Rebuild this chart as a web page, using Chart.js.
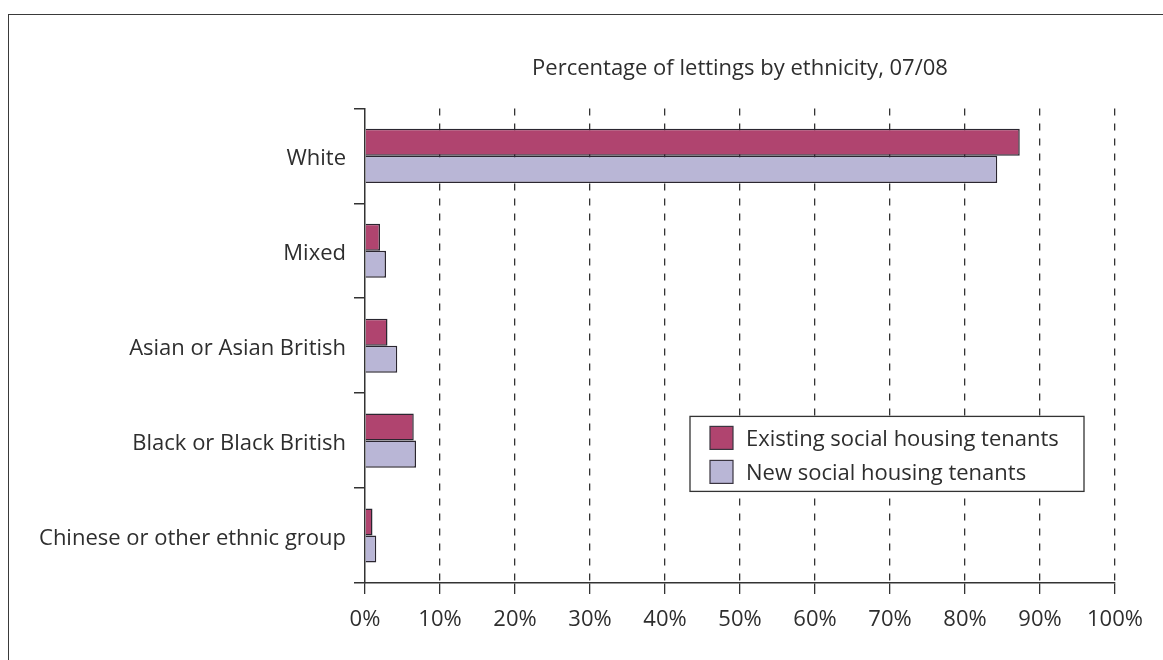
<!DOCTYPE html>
<html>
<head>
<meta charset="utf-8">
<script src="https://cdn.jsdelivr.net/npm/chart.js@4"></script>
<style>
  html, body { margin: 0; padding: 0; background: #fff; }
  #wrap { position: relative; width: 1163px; height: 660px; overflow: hidden; }
  #frame {
    position: absolute; left: 8px; top: 14px; width: 1200px; height: 700px;
    border-top: 1.5px solid #3a3a3a; border-left: 1.5px solid #3a3a3a;
  }
  #chart { position: absolute; left: 0; top: 0; }
</style>
</head>
<body>
<div id="wrap">
  <div id="frame"></div>
  <canvas id="chart" width="1163" height="660"></canvas>
</div>
<script>
const categories = ['White', 'Mixed', 'Asian or Asian British', 'Black or Black British', 'Chinese or other ethnic group'];
const existingTenants = [87.3, 2.0, 3.0, 6.5, 1.0];
const newTenants = [84.3, 2.8, 4.3, 6.8, 1.5];
const xTicks = [0, 10, 20, 30, 40, 50, 60, 70, 80, 90, 100];

const ink = '#2e2e2e';
const fontFamily = '"Open Sans", "Noto Sans", sans-serif';

Chart.defaults.font.family = fontFamily;
Chart.defaults.font.size = 22;
Chart.defaults.color = ink;

// legend box drawn inside the plot, lower right
const boxLegend = {
  id: 'boxLegend',
  afterDraw(chart) {
    const { ctx, chartArea } = chart;
    const x = chartArea.left + 325;
    const y = chartArea.top + 308;
    const w = 394, h = 75;
    ctx.save();
    ctx.fillStyle = '#fff';
    ctx.fillRect(x, y, w, h);
    ctx.strokeStyle = '#333';
    ctx.lineWidth = 1.3;
    ctx.strokeRect(x, y, w, h);
    ctx.font = '22px ' + fontFamily;
    ctx.textBaseline = 'middle';
    chart.data.datasets.forEach((ds, i) => {
      const sy = y + 10 + i * 34;
      ctx.fillStyle = ds.backgroundColor;
      ctx.fillRect(x + 20, sy, 23, 23);
      ctx.strokeStyle = '#3a3540';
      ctx.lineWidth = 1.2;
      ctx.strokeRect(x + 20, sy, 23, 23);
      ctx.fillStyle = ink;
      ctx.fillText(ds.label, x + 56, sy + 13);
    });
    ctx.restore();
  }
};

new Chart(document.getElementById('chart'), {
  type: 'bar',
  data: {
    labels: categories,
    datasets: [
      {
        label: 'Existing social housing tenants',
        data: existingTenants,
        backgroundColor: '#b0446f',
        borderColor: '#2b2630',
        borderWidth: 1.5
      },
      {
        label: 'New social housing tenants',
        data: newTenants,
        backgroundColor: '#b9b6d6',
        borderColor: '#2b2630',
        borderWidth: 1.5
      }
    ]
  },
  options: {
    indexAxis: 'y',
    responsive: false,
    animation: false,
    categoryPercentage: 0.57,
    barPercentage: 1.0,
    layout: { padding: { left: 0, right: 48, top: 0, bottom: 0 } },
    plugins: {
      legend: { display: false },
      tooltip: { enabled: false },
      title: {
        display: true,
        text: 'Percentage of lettings by ethnicity, 07/08',
        fullSize: false,
        color: ink,
        font: { size: 22, weight: 'normal' },
        padding: { top: 56, bottom: 26 }
      }
    },
    scales: {
      x: {
        min: 0,
        max: 100,
        afterBuildTicks: scale => { scale.ticks = xTicks.map(v => ({ value: v })); },
        afterFit: scale => { scale.height = 77; },
        ticks: {
          color: ink,
          padding: 13,
          maxRotation: 0,
          callback: v => v + '%'
        },
        grid: {
          color: ctx => ctx.index === 0 ? 'rgba(0,0,0,0)' : '#333',
          lineWidth: 1.3,
          tickColor: '#333',
          tickLength: 11,
          tickWidth: 1.3
        },
        border: { display: true, color: '#333', width: 1.5, dash: [7, 8] }
      },
      y: {
        afterFit: scale => { scale.width = 365; },
        ticks: { color: ink, padding: 8, labelOffset: 3 },
        grid: {
          drawOnChartArea: false,
          color: '#333',
          lineWidth: 1.5,
          tickLength: 11
        },
        border: { display: true, color: '#333', width: 1.5 }
      }
    }
  },
  plugins: [boxLegend]
});
</script>
</body>
</html>
